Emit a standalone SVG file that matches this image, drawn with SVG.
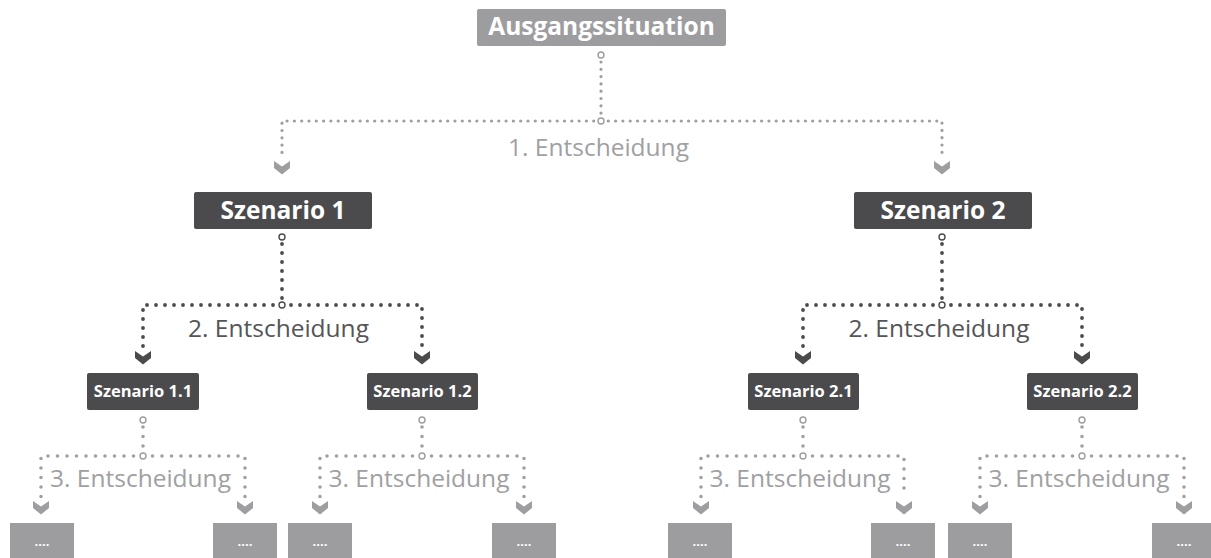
<svg xmlns="http://www.w3.org/2000/svg" width="1211" height="558" viewBox="0 0 1211 558">
<style>
.bxg{fill:#9d9d9f}
.bxd{fill:#4b4b4d}
.t1{font-family:"Open Sans","Liberation Sans",sans-serif;font-weight:700;font-size:24.5px;fill:#fff;text-anchor:middle}
.t2{font-family:"Open Sans","Liberation Sans",sans-serif;font-weight:700;font-size:16.5px;fill:#fff;text-anchor:middle}
.t3{font-family:"Open Sans","Liberation Sans",sans-serif;font-weight:700;font-size:13px;fill:#fff;text-anchor:middle}
.lbl{font-family:"Open Sans","Liberation Sans",sans-serif;font-size:24.5px;text-anchor:middle}
.lg{fill:#a0a0a2}
.ld{fill:#555557}
.c1{fill:none;stroke:#9e9ea0;stroke-width:3.2;stroke-linecap:round;stroke-dasharray:0 7.3}
.c2{fill:none;stroke:#4b4b4d;stroke-width:3.8;stroke-linecap:round;stroke-dasharray:0 9}
.c3{fill:none;stroke:#a0a0a2;stroke-width:3.6;stroke-linecap:round;stroke-dasharray:0 9.5}
.og{fill:#fff;stroke:#9e9ea0;stroke-width:1.4}
.od{fill:#fff;stroke:#4b4b4d;stroke-width:1.4}
.cg{fill:#9e9ea0}
.cd{fill:#4b4b4d}
</style>
<defs>
<path id="chev" d="M-8,-7 L0,-1.5 L8,-7 L8,0 L0,6.5 L-8,0 Z"/>
</defs>
<g id="connectors">
<path class="c1" d="M601,62 V121"/>
<path class="c1" d="M601,121 H282 V158"/>
<path class="c1" d="M601,121 H942 V158"/>
<circle class="og" cx="601" cy="55" r="3"/>
<circle class="og" cx="601" cy="121" r="3"/>
<use href="#chev" class="cg" x="282" y="168"/>
<use href="#chev" class="cg" x="942" y="168"/>

<path class="c2" d="M282,244 V305"/>
<path class="c2" d="M282,305 H143 V347"/>
<path class="c2" d="M282,305 H422 V347"/>
<circle class="od" cx="282" cy="237" r="3"/>
<circle class="od" cx="282" cy="305" r="3"/>
<use href="#chev" class="cd" x="143" y="358"/>
<use href="#chev" class="cd" x="422" y="358"/>

<path class="c2" d="M942,244 V305"/>
<path class="c2" d="M942,305 H803 V347"/>
<path class="c2" d="M942,305 H1082 V347"/>
<circle class="od" cx="942" cy="237" r="3"/>
<circle class="od" cx="942" cy="305" r="3"/>
<use href="#chev" class="cd" x="803" y="358"/>
<use href="#chev" class="cd" x="1082" y="358"/>

<path class="c3" d="M143,427 V456"/>
<path class="c3" d="M143,456 H41 V497"/>
<path class="c3" d="M143,456 H245 V497"/>
<circle class="og" cx="143" cy="420" r="3"/>
<circle class="og" cx="143" cy="456" r="3"/>
<use href="#chev" class="cg" x="41" y="508"/>
<use href="#chev" class="cg" x="245" y="508"/>

<path class="c3" d="M422,427 V456"/>
<path class="c3" d="M422,456 H320 V497"/>
<path class="c3" d="M422,456 H524 V497"/>
<circle class="og" cx="422" cy="420" r="3"/>
<circle class="og" cx="422" cy="456" r="3"/>
<use href="#chev" class="cg" x="320" y="508"/>
<use href="#chev" class="cg" x="524" y="508"/>

<path class="c3" d="M803,427 V456"/>
<path class="c3" d="M803,456 H701 V497"/>
<path class="c3" d="M803,456 H904 V497"/>
<circle class="og" cx="803" cy="420" r="3"/>
<circle class="og" cx="803" cy="456" r="3"/>
<use href="#chev" class="cg" x="701" y="508"/>
<use href="#chev" class="cg" x="904" y="508"/>

<path class="c3" d="M1082,427 V456"/>
<path class="c3" d="M1082,456 H980 V497"/>
<path class="c3" d="M1082,456 H1184 V497"/>
<circle class="og" cx="1082" cy="420" r="3"/>
<circle class="og" cx="1082" cy="456" r="3"/>
<use href="#chev" class="cg" x="980" y="508"/>
<use href="#chev" class="cg" x="1184" y="508"/>
</g>
<g id="labels">
<text class="lbl lg" x="598.5" y="156">1. Entscheidung</text>
<text class="lbl ld" x="278.5" y="337">2. Entscheidung</text>
<text class="lbl ld" x="939" y="337">2. Entscheidung</text>
<text class="lbl lg" x="140.5" y="487">3. Entscheidung</text>
<text class="lbl lg" x="419" y="487">3. Entscheidung</text>
<text class="lbl lg" x="800" y="487">3. Entscheidung</text>
<text class="lbl lg" x="1079" y="487">3. Entscheidung</text>
</g>
<g id="n-root"><rect class="bxg" x="477" y="9" width="249" height="37" rx="2"/><text class="t1" x="601.5" y="35">Ausgangssituation</text></g>
<g id="n-s1"><rect class="bxd" x="194" y="192" width="178" height="37" rx="2"/><text class="t1" x="283" y="219">Szenario 1</text></g>
<g id="n-s2"><rect class="bxd" x="854" y="192" width="178" height="37" rx="2"/><text class="t1" x="943" y="219">Szenario 2</text></g>
<g id="n-s11"><rect class="bxd" x="87" y="373" width="112" height="37" rx="2"/><text class="t2" x="143" y="397">Szenario 1.1</text></g>
<g id="n-s12"><rect class="bxd" x="367" y="373" width="111" height="37" rx="2"/><text class="t2" x="422.5" y="397">Szenario 1.2</text></g>
<g id="n-s21"><rect class="bxd" x="748" y="373" width="111" height="37" rx="2"/><text class="t2" x="803.5" y="397">Szenario 2.1</text></g>
<g id="n-s22"><rect class="bxd" x="1027" y="373" width="111" height="37" rx="2"/><text class="t2" x="1082.5" y="397">Szenario 2.2</text></g>
<g id="n-l1"><rect class="bxg" x="10" y="523" width="64" height="40"/><text class="t3" x="42" y="546">....</text></g>
<g id="n-l2"><rect class="bxg" x="213" y="523" width="64" height="40"/><text class="t3" x="245" y="546">....</text></g>
<g id="n-l3"><rect class="bxg" x="288" y="523" width="64" height="40"/><text class="t3" x="320" y="546">....</text></g>
<g id="n-l4"><rect class="bxg" x="492" y="523" width="64" height="40"/><text class="t3" x="524" y="546">....</text></g>
<g id="n-l5"><rect class="bxg" x="668" y="523" width="64" height="40"/><text class="t3" x="700" y="546">....</text></g>
<g id="n-l6"><rect class="bxg" x="871" y="523" width="64" height="40"/><text class="t3" x="903" y="546">....</text></g>
<g id="n-l7"><rect class="bxg" x="948" y="523" width="64" height="40"/><text class="t3" x="980" y="546">....</text></g>
<g id="n-l8"><rect class="bxg" x="1152" y="523" width="64" height="40"/><text class="t3" x="1184" y="546">....</text></g>
</svg>
